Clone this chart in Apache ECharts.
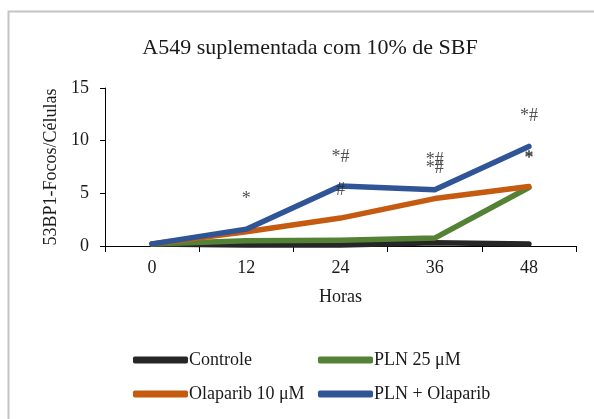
<!DOCTYPE html>
<html>
<head>
<meta charset="utf-8">
<script src="https://cdn.jsdelivr.net/npm/echarts@6/dist/echarts.min.js"></script>
<style>
  html, body { margin: 0; padding: 0; background: #fff; }
  #chart { width: 594px; height: 419px; }
</style>
</head>
<body>
<div id="chart"></div>
<script>
// Time points (hours)
var hours = ['0', '12', '24', '36', '48'];

// 53BP1 foci per cell for each treatment
var controle = [0.2, 0.1, 0.1, 0.3, 0.2];
var pln25 = [0.2, 0.5, 0.55, 0.75, 5.55];
var olaparib10 = [0.2, 1.35, 2.65, 4.5, 5.65];
var plnOlaparib = [0.2, 1.6, 5.7, 5.35, 9.45];

// Significance marks: [hour, height on the y scale, text]
var marks = [
  ['12', 4.4, '*'],
  ['24', 8.4, '*#'],
  ['24', 5.3, '#'],
  ['36', 8.1, '*#'],
  ['36', 7.4, '*#'],
  ['48', 12.3, '*#'],
  ['48', 8.25, '*'],
  ['48', 8.3, '*']
];

var serif = '"Liberation Serif", "Times New Roman", serif';
var ink = '#1a1a1a';

function lineSeries(name, data, color) {
  return {
    name: name,
    type: 'line',
    data: data,
    symbol: 'none',
    lineStyle: { width: 5.5, color: color, cap: 'round', join: 'round' },
    itemStyle: { color: color },
    emphasis: { disabled: true },
    animation: false
  };
}

var legendText = { fontFamily: serif, fontSize: 18, color: ink, padding: [0, 0, 0, -4] };

var chart = echarts.init(document.getElementById('chart'), null, { renderer: 'canvas' });
chart.setOption({
  backgroundColor: '#fff',
  animation: false,
  graphic: [{
    type: 'rect',
    left: 6, top: 9,
    shape: { width: 620, height: 440 },
    style: { fill: 'none', stroke: '#c4c4c4', lineWidth: 2 },
    silent: true
  }],
  title: {
    text: 'A549 suplementada com 10% de SBF',
    left: 305, top: 32,
    textAlign: 'center',
    textStyle: { fontFamily: serif, fontSize: 22, fontWeight: 'normal', color: ink }
  },
  legend: [{
    orient: 'vertical',
    left: 128, top: 346,
    itemWidth: 55, itemHeight: 7, itemGap: 16,
    icon: 'roundRect',
    data: ['Controle', 'Olaparib 10 μM'],
    textStyle: legendText,
    selectedMode: false
  }, {
    orient: 'vertical',
    left: 313, top: 346,
    itemWidth: 55, itemHeight: 7, itemGap: 16,
    icon: 'roundRect',
    data: ['PLN 25 μM', 'PLN + Olaparib'],
    textStyle: legendText,
    selectedMode: false
  }],
  grid: { left: 105, right: 18, top: 88, bottom: 173, containLabel: false },
  xAxis: {
    type: 'category',
    data: hours,
    boundaryGap: true,
    name: 'Horas',
    nameLocation: 'middle',
    nameGap: 42,
    nameTextStyle: { fontFamily: serif, fontSize: 18, color: ink },
    axisLine: { lineStyle: { color: '#000', width: 1 } },
    axisTick: { show: true, length: 6, lineStyle: { color: '#000' } },
    axisLabel: { fontFamily: serif, fontSize: 18, color: ink, margin: 13 },
    splitLine: { show: false }
  },
  yAxis: {
    type: 'value',
    min: 0, max: 15, interval: 5,
    name: '53BP1-Focos/Células',
    nameLocation: 'middle',
    nameGap: 42,
    nameRotate: 90,
    nameTextStyle: { fontFamily: serif, fontSize: 18, color: ink },
    axisLine: { show: true, lineStyle: { color: '#000', width: 1 } },
    axisTick: { show: true, length: 5, lineStyle: { color: '#000' } },
    axisLabel: { fontFamily: serif, fontSize: 18, color: ink, margin: 16 },
    splitLine: { show: false }
  },
  series: [
    lineSeries('Controle', controle, '#262626'),
    lineSeries('PLN 25 μM', pln25, '#548235'),
    lineSeries('Olaparib 10 μM', olaparib10, '#c55a11'),
    lineSeries('PLN + Olaparib', plnOlaparib, '#2f5597'),
    {
      name: 'marks',
      type: 'scatter',
      symbol: 'circle',
      symbolSize: 2,
      itemStyle: { color: 'rgba(255,255,255,0)' },
      silent: true,
      z: 5,
      data: marks.map(function (m) { return { value: [m[0], m[1]], text: m[2] }; }),
      label: {
        show: true,
        position: 'inside',
        fontFamily: serif,
        fontSize: 18,
        color: '#262626',
        formatter: function (p) { return p.data.text; }
      },
      labelLayout: { hideOverlap: false }
    }
  ]
});
</script>
</body>
</html>
